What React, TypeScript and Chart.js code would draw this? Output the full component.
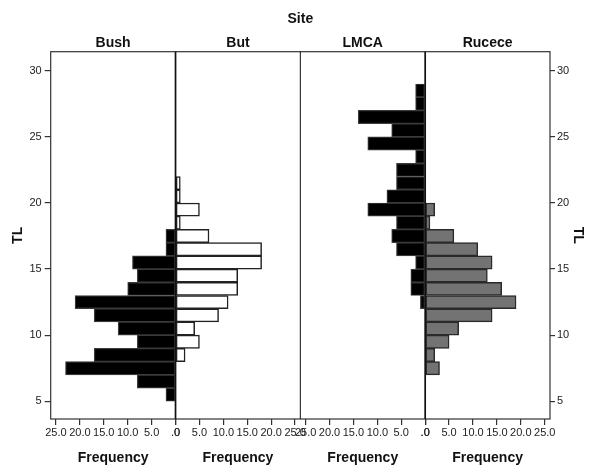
import React, { useEffect, useRef } from 'react';
import { Chart, registerables } from 'chart.js';

Chart.register(...registerables);

// ---- data ----
const tlBins = [5.5, 6.5, 7.5, 8.5, 9.5, 10.5, 11.5, 12.5, 13.5, 14.5, 15.5, 16.5, 17.5, 18.5, 19.5, 20.5, 21.5, 22.5, 23.5, 24.5, 25.5, 26.5, 27.5, 28.5];
const siteNames = ['Bush', 'But', 'LMCA', 'Rucece'];
const bushFreq = [2, 8, 23, 17, 8, 12, 17, 21, 10, 8, 9, 2, 2, 0, 0, 0, 0, 0, 0, 0, 0, 0, 0, 0];
const butFreq = [0, 0, 0, 2, 5, 4, 9, 11, 13, 13, 18, 18, 7, 1, 5, 1, 1, 0, 0, 0, 0, 0, 0, 0];
const lmcaFreq = [0, 0, 0, 0, 0, 0, 0, 1, 3, 3, 2, 6, 7, 6, 12, 8, 6, 6, 2, 12, 7, 14, 2, 2];
const ruceceFreq = [0, 0, 3, 2, 5, 7, 14, 19, 16, 13, 14, 11, 6, 1, 2, 0, 0, 0, 0, 0, 0, 0, 0, 0];
const freqTicks = [0, 5, 10, 15, 20, 25];
const tlTicks = [5, 10, 15, 20, 25, 30];

const FONT = "'Liberation Sans', Arial, Helvetica, sans-serif";
const TEXT = '#111';
const LINE = '#333';

const toPoints = (freq: number[]) =>
  tlBins.map((y, i) => ({ x: freq[i], y })).filter((p) => p.x > 0);

const fmtFreq = (v: number) => (v === 0 ? '.0' : v.toFixed(1));

const framePlugin = {
  id: 'panelFrame',
  afterDatasetsDraw(chart: any) {
    const { ctx, chartArea: a, scales } = chart;
    const vline = (x: number) => {
      ctx.beginPath();
      ctx.moveTo(x, a.top);
      ctx.lineTo(x, a.bottom);
      ctx.stroke();
    };
    ctx.save();
    ctx.strokeStyle = LINE;
    ctx.lineWidth = 1.2;
    ctx.strokeRect(a.left, a.top, a.right - a.left, a.bottom - a.top);
    ctx.lineWidth = 1.1;
    ctx.strokeStyle = '#222';
    vline(scales.xLMCA.left);
    ctx.lineWidth = 1.7;
    ctx.strokeStyle = '#111';
    vline(scales.xBush.getPixelForValue(0));
    vline(scales.xLMCA.getPixelForValue(0));
    ctx.restore();
  },
};

function freqAxis(reverse: boolean, weight: number) {
  return {
    type: 'linear',
    position: 'bottom',
    stack: 'freq',
    stackWeight: 1,
    weight,
    reverse,
    min: 0,
    max: 26.1,
    afterBuildTicks: (s: any) => {
      s.ticks = freqTicks.map((v) => ({ value: v }));
    },
    afterFit: (s: any) => {
      s.height = 48;
    },
    ticks: {
      autoSkip: false,
      maxRotation: 0,
      minRotation: 0,
      padding: 1.4,
      color: '#222',
      font: { family: FONT, size: 11 },
      callback: (v: any) => fmtFreq(Number(v)),
    },
    grid: {
      display: true,
      drawOnChartArea: false,
      drawTicks: true,
      tickLength: 6,
      color: LINE,
      lineWidth: 1.2,
    },
    border: { display: false },
    title: {
      display: true,
      text: 'Frequency',
      color: TEXT,
      font: { family: FONT, size: 14, weight: 'bold' },
      padding: { top: 0, bottom: 0.6 },
    },
  };
}

function siteAxis(name: string, weight: number) {
  return {
    type: 'linear',
    position: 'top',
    stack: 'site',
    stackWeight: 1,
    weight,
    min: 0,
    max: 1,
    afterFit: (s: any) => {
      s.height = 21.3;
    },
    ticks: { display: false },
    grid: { display: false },
    border: { display: false },
    title: {
      display: true,
      text: name,
      color: TEXT,
      font: { family: FONT, size: 14, weight: 'bold' },
      padding: { top: 4.2, bottom: 0 },
    },
  };
}

function tlAxis(position: 'left' | 'right', width: number, tickLen: number, pad: number, titlePad: number) {
  return {
    type: 'linear',
    position,
    min: 3.66,
    max: 31.44,
    offset: false,
    afterBuildTicks: (s: any) => {
      s.ticks = tlTicks.map((v) => ({ value: v }));
    },
    afterFit: (s: any) => {
      s.width = width;
    },
    ticks: {
      autoSkip: false,
      padding: pad,
      color: '#222',
      font: { family: FONT, size: 11 },
      callback: (v: any) => String(v),
    },
    grid: {
      display: true,
      offset: false,
      drawOnChartArea: false,
      drawTicks: true,
      tickLength: tickLen,
      color: LINE,
      lineWidth: 1.2,
    },
    border: { display: false },
    title: {
      display: true,
      text: 'TL',
      color: TEXT,
      font: { family: FONT, size: 14, weight: 'bold' },
      padding: { top: titlePad, bottom: 0 },
    },
  };
}

export default function App() {
  const canvasRef = useRef<HTMLCanvasElement | null>(null);

  useEffect(() => {
    if (!canvasRef.current) return;
    const common = { yAxisID: 'y', grouped: false, barPercentage: 1, categoryPercentage: 1, borderSkipped: false };
    const chart = new Chart(canvasRef.current, {
      type: 'bar',
      data: {
        datasets: [
          { ...common, label: siteNames[0], xAxisID: 'xBush', data: toPoints(bushFreq), backgroundColor: '#000000', borderColor: '#3a3a3a', borderWidth: 1.2 },
          { ...common, label: siteNames[1], xAxisID: 'xBut', data: toPoints(butFreq), backgroundColor: '#ffffff', borderColor: '#222222', borderWidth: 1.5 },
          { ...common, label: siteNames[2], xAxisID: 'xLMCA', data: toPoints(lmcaFreq), backgroundColor: '#000000', borderColor: '#3a3a3a', borderWidth: 1.2 },
          { ...common, label: siteNames[3], xAxisID: 'xRucece', data: toPoints(ruceceFreq), backgroundColor: '#737373', borderColor: '#2a2a2a', borderWidth: 1.5 },
        ] as any,
      },
      options: {
        indexAxis: 'y',
        responsive: false,
        animation: false,
        layout: { padding: 0 },
        events: [],
        scales: {
          y: tlAxis('left', 50.7, 6, 3, 9.9),
          y2: tlAxis('right', 39, 5, 2, 2.6),
          xBush: freqAxis(true, 1),
          xBut: freqAxis(false, 2),
          xLMCA: freqAxis(true, 3),
          xRucece: freqAxis(false, 4),
          tBush: siteAxis(siteNames[0], 4),
          tBut: siteAxis(siteNames[1], 3),
          tLMCA: siteAxis(siteNames[2], 2),
          tRucece: siteAxis(siteNames[3], 1),
        } as any,
        plugins: {
          legend: { display: false },
          tooltip: { enabled: false },
          title: {
            display: true,
            text: 'Site',
            fullSize: false,
            color: TEXT,
            font: { family: FONT, size: 14, weight: 'bold' },
            padding: { top: 10.6, bottom: 3 },
          },
        },
      } as any,
      plugins: [framePlugin],
    });
    return () => chart.destroy();
  }, []);

  return (
    <div style={{ position: 'absolute', left: 0, top: 0, width: 589, height: 467, background: '#fff' }}>
      <canvas ref={canvasRef} width={589} height={467} style={{ display: 'block', width: 589, height: 467 }} />
    </div>
  );
}
